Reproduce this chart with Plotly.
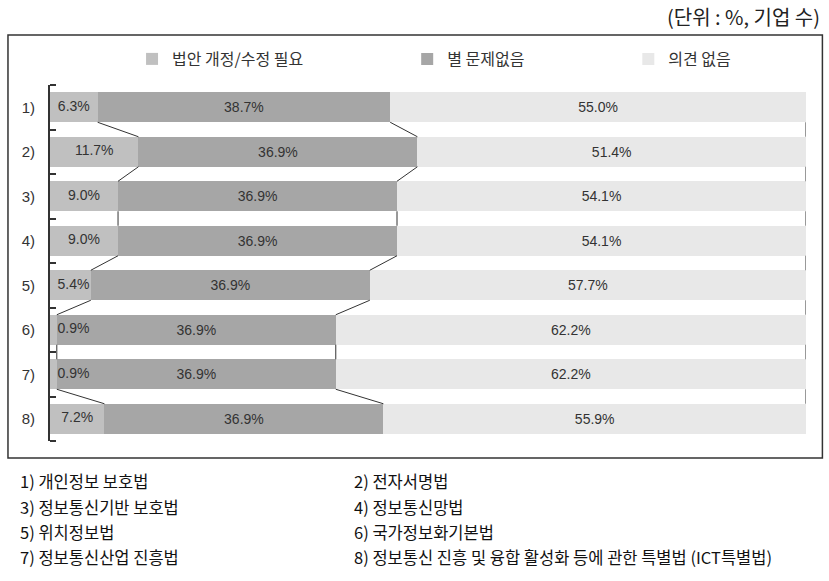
import plotly.graph_objects as go

# ---- data ----
categories = ["1)", "2)", "3)", "4)", "5)", "6)", "7)", "8)"]
series_names = ["법안 개정/수정 필요", "별 문제없음", "의견 없음"]
need_revision = [6.3, 11.7, 9.0, 9.0, 5.4, 0.9, 0.9, 7.2]
no_problem = [38.7, 36.9, 36.9, 36.9, 36.9, 36.9, 36.9, 36.9]
no_opinion = [55.0, 51.4, 54.1, 54.1, 57.7, 62.2, 62.2, 55.9]
footnotes = [
    "1) 개인정보 보호법", "2) 전자서명법",
    "3) 정보통신기반 보호법", "4) 정보통신망법",
    "5) 위치정보법", "6) 국가정보화기본법",
    "7) 정보통신산업 진흥법", "8) 정보통신 진흥 및 융합 활성화 등에 관한 특별법 (ICT특별법)",
]
unit_label = "(단위 : %, 기업 수)"

colors = ["#c0c0c0", "#a6a6a6", "#e8e8e8"]
KFONT = "Noto Sans CJK KR"
NFONT = "Liberation Sans"

W, H = 829, 581
L, R, T, B = 50, 23.4, 85, 140
PW = W - L - R
PH = H - T - B

ypos = list(range(len(categories)))
bar_w = 0.674


def px_x(x):
    return (x - L) / PW


def px_y(y):
    return (H - B - y) / PH


legend_ids = ["legend", "legend2", "legend3"]
legend_x = [132, 407, 628]

fig = go.Figure()
series = [need_revision, no_problem, no_opinion]
for k, (name, vals) in enumerate(zip(series_names, series)):
    fig.add_trace(go.Bar(
        y=ypos, x=vals, name=name, orientation="h",
        marker=dict(color=colors[k], line=dict(width=0)),
        width=bar_w,
        text=[f"{v:.1f}%" for v in vals] if k > 0 else None,
        textposition="inside" if k > 0 else "none",
        insidetextanchor="middle",
        textangle=0,
        constraintext="none",
        textfont=dict(family=NFONT, size=14, color="#333333"),
        hoverinfo="skip",
        legend=legend_ids[k],
    ))

# labels for the first (small) series
fig.add_trace(go.Scatter(
    x=[max(v / 2, 3.1) for v in need_revision], y=ypos, mode="text",
    text=[f"{v:.1f}%" for v in need_revision],
    textposition="middle center",
    textfont=dict(family=NFONT, size=14, color="#333333"),
    showlegend=False, hoverinfo="skip",
))

# series connector lines
cum1 = need_revision
cum2 = [a + b for a, b in zip(need_revision, no_problem)]
cum3 = [a + b + c for a, b, c in zip(need_revision, no_problem, no_opinion)]
lx, ly = [], []
for cum in (cum1, cum2, cum3):
    for i in range(len(categories) - 1):
        lx += [cum[i], cum[i + 1], None]
        ly += [i + bar_w / 2, i + 1 - bar_w / 2, None]
fig.add_trace(go.Scatter(
    x=lx, y=ly, mode="lines", line=dict(color="#333333", width=1),
    showlegend=False, hoverinfo="skip",
))

annotations = [dict(
    text=unit_label, x=px_x(822), y=px_y(17), xref="paper", yref="paper",
    xanchor="right", yanchor="middle", showarrow=False,
    font=dict(family=KFONT, size=20, color="#222222"),
)]
rows_y = [481, 507, 532, 557]
for idx, t in enumerate(footnotes):
    r, c = divmod(idx, 2)
    annotations.append(dict(
        text=t, x=px_x(18 if c == 0 else 352), y=px_y(rows_y[r]),
        xref="paper", yref="paper", xanchor="left", yanchor="middle",
        showarrow=False, font=dict(family=KFONT, size=16.5, color="#111111"),
    ))

legend_common = dict(
    orientation="h", yanchor="middle", xanchor="left",
    font=dict(family=KFONT, size=16, color="#333333"),
    bgcolor="rgba(0,0,0,0)", borderwidth=0,
)
layout_legends = {}
for lid, lxp in zip(legend_ids, legend_x):
    layout_legends[lid] = dict(legend_common, x=px_x(lxp), y=px_y(59))

fig.update_layout(
    width=W, height=H,
    margin=dict(l=L, r=R, t=T, b=B),
    paper_bgcolor="white", plot_bgcolor="white",
    barmode="stack",
    showlegend=True,
    xaxis=dict(range=[0, 100], visible=False, fixedrange=True),
    yaxis=dict(
        range=[len(categories) - 0.5, -0.5],
        tickvals=ypos, ticktext=categories, ticks="",
        ticklabelstandoff=10,
        tickfont=dict(family=NFONT, size=15, color="#333333"),
        showline=True, linecolor="#333333", linewidth=2,
        showgrid=False, zeroline=False,
        minor=dict(ticks="inside", tick0=0.5, dtick=1, ticklen=6,
                   tickcolor="#333333", tickwidth=1.5, showgrid=False),
    ),
    annotations=annotations,
    shapes=[dict(
        type="rect", xref="paper", yref="paper",
        x0=px_x(8), x1=px_x(822), y0=px_y(458), y1=px_y(35),
        line=dict(color="#333333", width=1.5), fillcolor="rgba(0,0,0,0)",
    )],
    **layout_legends,
)

fig.write_html("out.html")
